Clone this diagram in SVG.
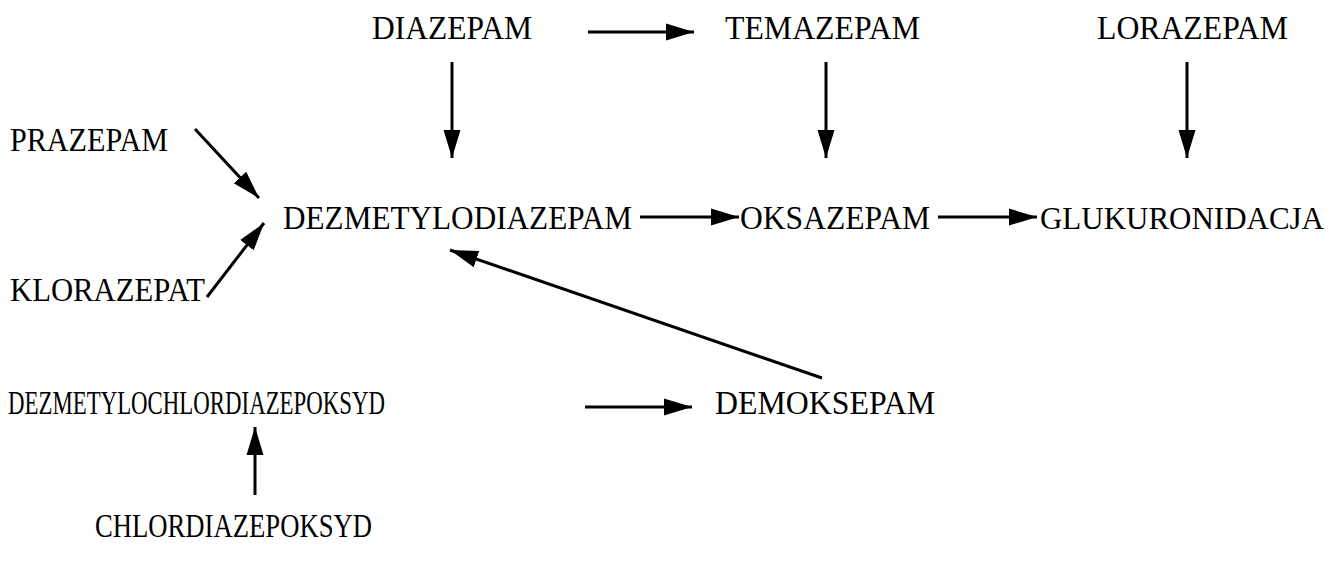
<svg xmlns="http://www.w3.org/2000/svg" width="1333" height="563" viewBox="0 0 1333 563">
<style>
text{font-family:"Liberation Serif","Times New Roman",serif;font-size:34px;fill:#000}
.c line{stroke:#000;stroke-width:3;marker-end:url(#ah)}
</style>
<defs>
<marker id="ah" markerUnits="userSpaceOnUse" markerWidth="30" markerHeight="20" refX="28" refY="9" orient="auto">
<path d="M0,0.5 L28,9 L0,17.5 z" fill="#000"/>
</marker>
</defs>
<rect width="1333" height="563" fill="#fff"/>
<g id="diazepam"><text x="372" y="39" textLength="160" lengthAdjust="spacingAndGlyphs">DIAZEPAM</text></g>
<g id="temazepam"><text x="725" y="39" textLength="195" lengthAdjust="spacingAndGlyphs">TEMAZEPAM</text></g>
<g id="lorazepam"><text x="1097" y="39" textLength="191" lengthAdjust="spacingAndGlyphs">LORAZEPAM</text></g>
<g id="prazepam"><text x="10" y="151" textLength="158" lengthAdjust="spacingAndGlyphs">PRAZEPAM</text></g>
<g id="dezmetylodiazepam"><text x="283" y="229" textLength="349" lengthAdjust="spacingAndGlyphs">DEZMETYLODIAZEPAM</text></g>
<g id="oksazepam"><text x="740" y="229" textLength="190" lengthAdjust="spacingAndGlyphs">OKSAZEPAM</text></g>
<g id="glukuronidacja"><text x="1040" y="229" style="font-size:31.5px" textLength="284" lengthAdjust="spacingAndGlyphs">GLUKURONIDACJA</text></g>
<g id="klorazepat"><text x="10" y="301" textLength="195" lengthAdjust="spacingAndGlyphs">KLORAZEPAT</text></g>
<g id="dezmetylochlordiazepoksyd"><text x="8" y="414" textLength="377" lengthAdjust="spacingAndGlyphs">DEZMETYLOCHLORDIAZEPOKSYD</text></g>
<g id="demoksepam"><text x="715" y="414" textLength="220" lengthAdjust="spacingAndGlyphs">DEMOKSEPAM</text></g>
<g id="chlordiazepoksyd"><text x="95" y="537" textLength="277" lengthAdjust="spacingAndGlyphs">CHLORDIAZEPOKSYD</text></g>
<g class="c" id="connectors">
<line x1="588" y1="32" x2="694" y2="32"/>
<line x1="452" y1="62" x2="452" y2="158"/>
<line x1="826" y1="62" x2="826" y2="158"/>
<line x1="1187" y1="62" x2="1187" y2="158"/>
<line x1="195" y1="129" x2="259" y2="198"/>
<line x1="207" y1="297" x2="264" y2="223"/>
<line x1="640" y1="217" x2="739" y2="217"/>
<line x1="938" y1="217" x2="1037" y2="217"/>
<line x1="822" y1="378" x2="450" y2="250"/>
<line x1="585" y1="407" x2="692" y2="407"/>
<line x1="255" y1="495" x2="255" y2="427"/>
</g>
</svg>
